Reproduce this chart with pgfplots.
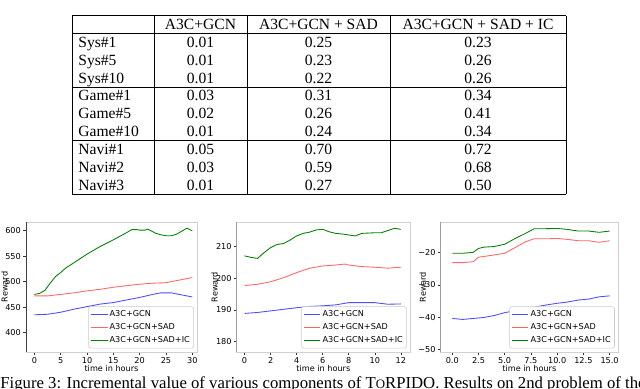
\documentclass[border=0pt]{standalone}
\usepackage{pgfplots}
\pgfplotsset{compat=1.18}
\usepackage{fontspec}
\setmainfont{Liberation Serif}
\newfontfamily\djv{DejaVu Sans}

\definecolor{cblue}{rgb}{0.3,0.3,1}
\definecolor{cred}{rgb}{1,0.4,0.4}
\definecolor{cgreen}{rgb}{0,0.5,0}
\newcommand\axfont{\djv\fontsize{5.7}{6.6}\selectfont}

\pgfplotsset{
  torp/.style={
    scale only axis, height=91pt, anchor=south west,
    axis background/.style={fill=white},
    axis line style={black!18, line width=0.4pt},
    tick align=outside, xtick pos=bottom, ytick pos=left,
    major tick length=2.2pt,
    tick style={black!80, line width=0.4pt},
    ticklabel style={font=\axfont, inner sep=1.2pt},
    label style={font=\axfont, inner sep=0.5pt},
    /pgf/number format/assume math mode=true,
    xlabel={time in hours}, ylabel={Reward},
    xlabel style={at={([yshift=-11.4pt]rel axis cs:0.5,0)}, anchor=center},
    legend cell align=left,
    legend image code/.code={\draw[#1] (0pt,0pt) -- (11.5pt,0pt);},
    legend style={at={(0.982,0.028)}, anchor=south east, draw=black!20,
      rounded corners=1.5pt, fill=white, font=\axfont,
      inner sep=1.4pt, row sep=0.9pt, nodes={inner sep=1.2pt}},
    every axis plot/.append style={line width=0.6pt},
  },
  ylab/.style={every axis y label/.style={at={([xshift=-#1]rel axis cs:0,0.5)},
    rotate=90, anchor=center, font=\axfont, inner sep=0.5pt}},
}

\begin{document}
\begin{tikzpicture}
\path[use as bounding box] (0,0) rectangle (448pt,-272.3pt);
\clip (0,0) rectangle (448pt,-272.3pt);

% table, drawn in pixel units of the reference
\begin{scope}[x=0.7pt, y=-0.7pt, line width=0.5pt]
  \foreach \yy in {15.7,33.6,87.1,140.7,194.3}
    \draw (72,\yy) -- (566,\yy);
  \foreach \xx in {72,154,247,390,566}
    \draw (\xx,15.7) -- (\xx,194.3);
  \begin{scope}[every node/.style={font=\fontsize{10.9}{12}\selectfont, anchor=base, inner sep=0pt}]
    \node at (200.5,29.6) {A3C+GCN};
    \node at (318.5,29.6) {A3C+GCN + SAD};
    \node at (478,29.6) {A3C+GCN + SAD + IC};
    \foreach \y/\lab/\a/\b/\c in {
      47.5/Sys\#1/0.01/0.25/0.23,
      65.4/Sys\#5/0.01/0.23/0.26,
      83.2/Sys\#10/0.01/0.22/0.26,
      101.0/Game\#1/0.03/0.31/0.34,
      118.9/Game\#5/0.02/0.26/0.41,
      136.8/Game\#10/0.01/0.24/0.34,
      154.6/Navi\#1/0.05/0.70/0.72,
      172.5/Navi\#2/0.03/0.59/0.68,
      190.4/Navi\#3/0.01/0.27/0.50}{
      \node[anchor=base west] at (78,\y) {\lab};
      \node at (200.5,\y) {\a};
      \node at (318.5,\y) {\b};
      \node at (478,\y) {\c};
    }
  \end{scope}
  \node[anchor=base west, inner sep=0pt, font=\fontsize{11.7}{13}\selectfont] at (0,388.5)
    {Figure 3: Incremental value of various components of T{\fontsize{9}{9}\selectfont O}RPIDO. Results on 2nd problem of the};
\end{scope}

% plot 1
\begin{axis}[torp, ylab=15pt, at={(18.2pt,-246.4pt)}, width=119.7pt,
  xmin=-1.6, xmax=30.9, ymin=362, ymax=617,
  xtick={0,5,...,30}, ytick={400,450,...,600}]
\addplot[cblue] coordinates {(0,435)(2.5,436)(5,440)(7.5,446)(10,451)(12.5,456)(15,459)(17.5,464)(20,469)(22.5,475)(24,478)(26,478)(27.5,475)(29,472)(30,470)};
\addlegendentry{A3C+GCN}
\addplot[cred] coordinates {(0,472)(2.5,472)(5,475)(7.5,478)(10,482)(12.5,485)(15,489)(17.5,492)(20,495)(22.5,497)(25,498)(27.5,503)(30,508)};
\addlegendentry{A3C+GCN+SAD}
\addplot[cgreen] coordinates {(0,475)(1,477)(2,483)(3,497)(4,510)(5,518)(6,527)(7.5,537)(10,554)(12.5,569)(15,582)(17.5,596)(18.5,602)(19.5,602)(20,601)(21,601)(21.5,603)(22.5,598)(23,595)(24,592)(25,590)(26,590)(27,593)(28,599)(29,605)(29.5,602)(30,600)};
\addlegendentry{A3C+GCN+SAD+IC}
\draw[black!75, line width=0.45pt] (rel axis cs:0,1) -- (rel axis cs:0,0) -- (rel axis cs:1,0);
\end{axis}

% plot 2
\begin{axis}[torp, ylab=15.5pt, at={(165.7pt,-246.4pt)}, width=121.3pt,
  xmin=-0.6, xmax=12.7, ymin=176.7, ymax=217.8,
  xtick={0,2,...,12}, ytick={180,190,200,210}]
\addplot[cblue] coordinates {(0,188.9)(1,189.2)(2,189.7)(3,190.2)(4,190.7)(5,191.1)(6,191.3)(7,191.6)(8,192.3)(9,192.3)(10,192.3)(11,191.8)(12,191.9)};
\addlegendentry{A3C+GCN}
\addplot[cred] coordinates {(0,197.7)(1,198.1)(2,198.9)(3,200.2)(4,201.8)(5,203.2)(6,203.9)(7,204.2)(7.7,204.5)(8,204.2)(9,203.7)(10,203.5)(11,203.2)(12,203.5)};
\addlegendentry{A3C+GCN+SAD}
\addplot[cgreen] coordinates {(0,207.1)(0.5,206.6)(1,206.3)(1.5,208.1)(2,209.7)(2.5,210.7)(3,211)(3.5,212.1)(4,213.4)(4.5,214.2)(5,214.6)(5.5,215.3)(6,215.5)(6.5,214.7)(7,214.2)(7.5,214)(8,213.7)(8.5,213.4)(9,214.2)(10,214.4)(10.5,214.4)(11,215.1)(11.5,215.8)(12,215.5)};
\addlegendentry{A3C+GCN+SAD+IC}
\draw[black!75, line width=0.45pt] (rel axis cs:0,1) -- (rel axis cs:0,0) -- (rel axis cs:1,0);
\end{axis}

% plot 3
\begin{axis}[torp, ylab=12.5pt, at={(308.5pt,-246.4pt)}, width=124.1pt,
  xmin=-1.1, xmax=15.8, ymin=-50.8, ymax=-10.5,
  xtick={0,2.5,...,15}, xticklabels={0.0,2.5,5.0,7.5,10.0,12.5,15.0},
  ytick={-50,-40,-30,-20}, yticklabels={−50,−40,−30,−20}]
\addplot[cblue] coordinates {(0,-40.4)(1,-40.7)(2,-40.4)(3,-40.1)(4,-39.5)(5,-38.6)(6,-38)(7,-37.3)(8,-36.8)(9,-36.2)(10,-35.7)(11,-35.3)(12,-34.7)(13,-34.4)(14,-33.7)(15,-33.4)};
\addlegendentry{A3C+GCN}
\addplot[cred] coordinates {(0,-23.1)(1,-23.1)(2,-22.8)(2.5,-21.4)(3,-21.2)(4,-20.7)(5,-20.2)(6,-18.4)(7,-16.6)(7.8,-15.7)(9,-15.7)(10,-15.6)(11,-15.9)(12,-16.3)(13,-16.3)(14,-16.8)(15,-16.3)};
\addlegendentry{A3C+GCN+SAD}
\addplot[cgreen] coordinates {(0,-20.2)(1,-20.2)(2,-19.9)(2.5,-18.7)(3,-18.3)(4,-18.1)(5,-17.4)(6,-15.6)(7,-14)(7.8,-12.6)(8.5,-12.6)(10,-12.5)(11,-12.8)(12,-13.3)(13,-13.3)(14,-13.7)(14.5,-13.5)(15,-13.3)};
\addlegendentry{A3C+GCN+SAD+IC}
\draw[black!75, line width=0.45pt] (rel axis cs:0,1) -- (rel axis cs:0,0) -- (rel axis cs:1,0);
\end{axis}
\end{tikzpicture}
\end{document}
